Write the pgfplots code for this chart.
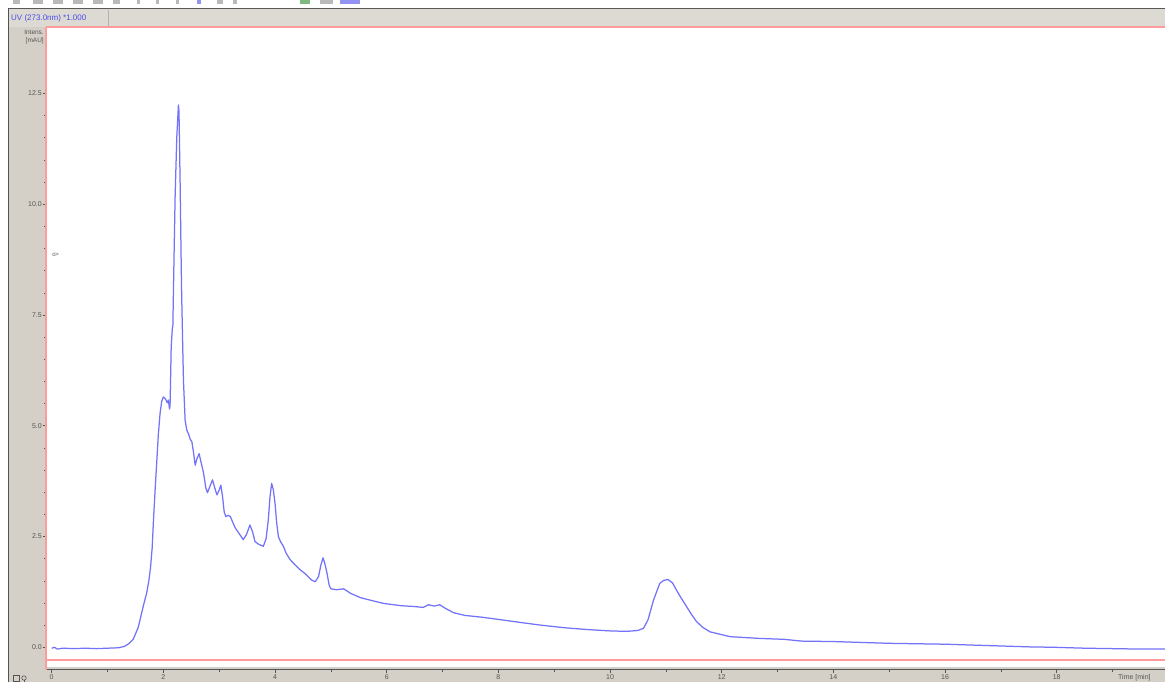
\documentclass[border=0pt]{standalone}
\usepackage{fontspec}
\setmainfont{Liberation Sans}
\usepackage{pgfplots}
\pgfplotsset{compat=1.18}
\definecolor{panel}{RGB}{212,208,200}
\definecolor{curve}{RGB}{115,115,250}
\definecolor{frame}{RGB}{255,155,155}
\definecolor{tickgray}{RGB}{85,85,85}
\definecolor{hdrblue}{RGB}{75,75,235}
\pgfplotstableread{
t v
0.00 -0.02
0.05 0.00
0.10 -0.04
0.20 -0.02
0.40 -0.03
0.60 -0.02
0.80 -0.03
1.00 -0.02
1.20 -0.01
1.30 0.02
1.38 0.08
1.46 0.18
1.55 0.45
1.64 0.93
1.70 1.22
1.74 1.50
1.77 1.80
1.80 2.25
1.82 2.80
1.85 3.50
1.88 4.15
1.91 4.80
1.94 5.27
1.97 5.55
2.00 5.65
2.04 5.60
2.07 5.52
2.09 5.58
2.11 5.38
2.12 5.45
2.13 6.10
2.14 6.77
2.16 7.19
2.17 7.25
2.19 8.72
2.21 10.14
2.24 11.50
2.27 12.24
2.28 12.10
2.30 10.50
2.32 8.60
2.33 7.82
2.35 6.60
2.36 6.02
2.39 5.12
2.42 4.90
2.45 4.82
2.48 4.70
2.51 4.64
2.54 4.40
2.57 4.11
2.60 4.25
2.64 4.37
2.68 4.15
2.72 3.93
2.76 3.60
2.79 3.49
2.83 3.62
2.88 3.78
2.92 3.60
2.96 3.44
3.00 3.55
3.03 3.66
3.06 3.40
3.09 3.05
3.12 2.95
3.16 2.98
3.20 2.95
3.25 2.80
3.29 2.69
3.35 2.58
3.43 2.43
3.49 2.55
3.55 2.76
3.60 2.60
3.64 2.39
3.70 2.33
3.79 2.28
3.84 2.45
3.88 2.88
3.91 3.40
3.94 3.70
3.97 3.55
4.00 3.25
4.03 2.80
4.06 2.50
4.10 2.38
4.15 2.28
4.20 2.12
4.27 1.98
4.35 1.87
4.45 1.75
4.55 1.65
4.65 1.52
4.72 1.48
4.78 1.60
4.82 1.85
4.86 2.02
4.89 1.90
4.93 1.68
4.97 1.40
5.00 1.32
5.10 1.30
5.23 1.32
5.35 1.22
5.53 1.12
5.75 1.05
5.95 0.99
6.25 0.94
6.50 0.92
6.65 0.90
6.75 0.96
6.85 0.93
6.95 0.96
7.05 0.88
7.20 0.78
7.40 0.72
7.70 0.68
8.00 0.63
8.40 0.56
8.76 0.50
9.20 0.44
9.60 0.40
10.00 0.37
10.30 0.36
10.50 0.38
10.60 0.43
10.68 0.62
10.78 1.07
10.89 1.44
10.96 1.51
11.04 1.53
11.12 1.45
11.19 1.29
11.28 1.10
11.37 0.92
11.46 0.74
11.55 0.58
11.66 0.45
11.79 0.35
12.15 0.24
12.69 0.20
13.12 0.18
13.43 0.14
14.00 0.13
14.50 0.11
15.00 0.09
15.50 0.08
16.00 0.07
16.50 0.05
17.00 0.03
17.50 0.01
17.97 0.00
18.50 -0.02
19.00 -0.03
19.50 -0.04
19.94 -0.04
}\chrom
\begin{document}
\begin{tikzpicture}[x=1pt,y=1pt]
\fill[white] (0,0) rectangle (1165,682);
% toolbar fragments at the very top
\foreach \a/\b in {13/20,33/43,53/63,73/83,93/103,113/120,137/140,156/159,176/179,217/223,233/237,320/333}
  \fill[gray!55] (\a,678) rectangle (\b,682);
\fill[hdrblue!60] (197,678) rectangle (201,682);
\fill[green!45!black!50] (300,678) rectangle (310,682);
\fill[hdrblue!60] (340,678) rectangle (360,682);
% header bar
\fill[panel!80!white] (8,655) rectangle (1165,673);
\draw[gray!70!black, line width=1] (8,673.5) -- (1165,673.5);
\draw[gray!60, line width=0.8] (108,656) -- (108,672);
\node[text=hdrblue, font=\fontsize{8}{9}\selectfont, anchor=west, inner sep=0] at (11,663.5) {UV (273.0nm) *1.000};
% left panel and bottom strip
\fill[panel] (8,0) rectangle (46,655);
\fill[panel] (8,0) rectangle (1165,15);
\draw[gray!65!black, line width=1.5] (8.5,0) -- (8.5,674);
\fill[white] (46,15) rectangle (1165,655);
\node[text=tickgray, font=\fontsize{6.5}{7.5}\selectfont, anchor=north east, align=right, inner sep=0] at (44,652) {Intens.\\{}[mAU]};
% checkbox bottom-left
\draw[tickgray, line width=0.6] (13,1) rectangle (19,7);
\draw[tickgray, line width=0.6] (24,4) circle (2.2);
\draw[tickgray, line width=0.6] (24,1.8) -- (24,0);
% red frame lines
\draw[frame, line width=2] (46,655) -- (1165,655);
\draw[frame, line width=2] (46,22) -- (1165,22);
\begin{axis}[
  at={(46pt,12pt)}, anchor=south west, scale only axis,
  width=1119pt, height=643pt,
  xmin=-0.102, xmax=19.94, ymin=-0.512, ymax=14.0,
  axis x line*=bottom, axis y line*=left,
  x axis line style={-, tickgray, line width=1},
  y axis line style={-, frame, line width=2},
  xtick={0,2,...,18}, minor xtick={1,3,...,19},
  ytick={0,2.5,5,7.5,10,12.5}, minor y tick num=4,
  tick align=outside, major tick length=3pt, minor tick length=2pt,
  tick style={tickgray, line width=0.6},
  /pgf/number format/assume math mode=true,
  yticklabel style={font=\fontsize{7}{8}\selectfont, text=tickgray, inner sep=1pt,
    /pgf/number format/.cd, fixed, fixed zerofill, precision=1},
  xticklabel style={font=\fontsize{7}{8}\selectfont, text=tickgray, inner sep=1pt},
  clip=false,
]
\addplot[curve, line width=1.25pt, line join=round] table[x=t, y=v] {\chrom};
\node[text=tickgray, font=\fontsize{6}{6}\selectfont, inner sep=0] at (axis cs:0.07,8.85) {o\kern-0.5pt\textgreater};
\end{axis}
\node[text=tickgray, font=\fontsize{7}{8}\selectfont, anchor=north west, inner sep=0] at (1118,8) {Time [min]};
\pgfresetboundingbox
\useasboundingbox (0,0) rectangle (1165,682);
\end{tikzpicture}
\end{document}
